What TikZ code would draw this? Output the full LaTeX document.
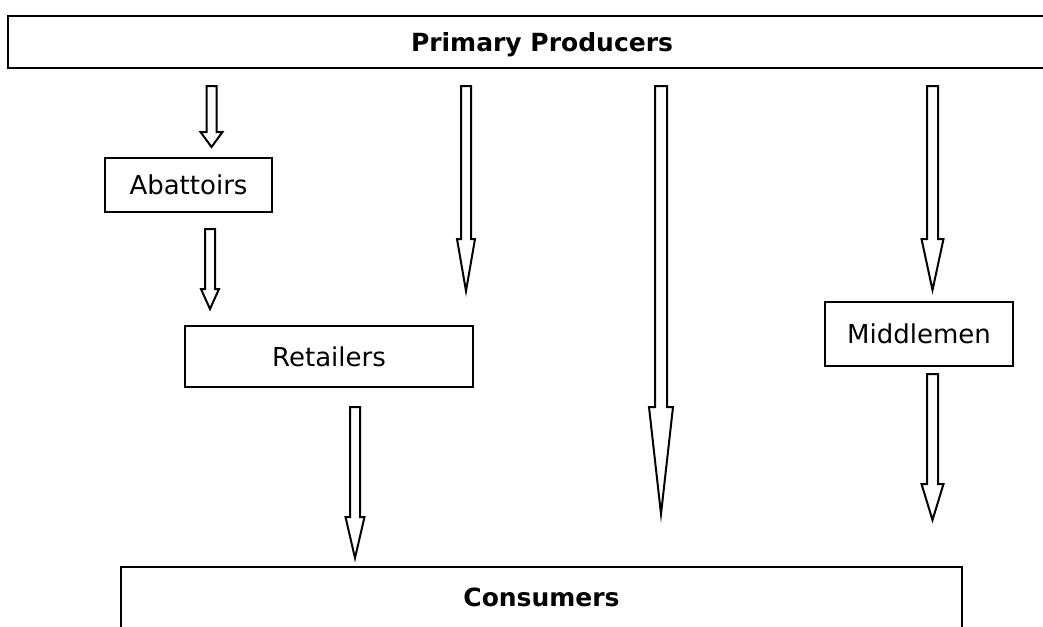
\documentclass[tikz,border=0pt]{standalone}
\usepackage{fontspec}
\setmainfont{DejaVu Sans}
\begin{document}
\begin{tikzpicture}[x=1pt,y=-1pt,
  box/.style={draw=black,line width=2pt,rectangle,inner sep=0pt,font=\fontsize{26}{31}\selectfont},
  bigbox/.style={box,font=\fontsize{25}{30}\selectfont\bfseries},
  hollow/.style={draw=black,line width=2pt,line join=miter,fill=white}]
\useasboundingbox (0,0) rectangle (1043,626);
\clip (0,0) rectangle (1043,626);
\newcommand{\hollowarr}[6]{%
  \draw[hollow] (#1-#4,#2) -- (#1+#4,#2) -- (#1+#4,#6) -- (#1+#5,#6) -- (#1,#3)
     -- (#1-#5,#6) -- (#1-#4,#6) -- cycle;}
% boxes
\node[bigbox,anchor=north,minimum width=1068pt,inner xsep=0pt,inner ysep=0pt,
      text height=36pt,text depth=16pt] (pp) at (542,15) {Primary Producers};
\node[box,minimum width=167pt,minimum height=54pt] (ab) at (188.5,185) {Abattoirs};
\node[box,minimum width=288pt,minimum height=61pt] (re) at (329,356.5) {Retailers};
\node[box,minimum width=188pt,minimum height=64pt] (mi) at (919,334) {Middlemen};
\node[bigbox,anchor=north,minimum width=841pt,inner xsep=0pt,inner ysep=20pt,
      text height=19pt,text depth=50pt] (co) at (541.5,566) {Consumers};
% arrows
\hollowarr{211.5}{86}{147}{5}{11}{132}
\hollowarr{210}{229}{309}{5}{9}{289}
\hollowarr{355}{407}{558}{5}{9.5}{517}
\hollowarr{466}{86}{291}{5}{9}{239}
\hollowarr{661}{86}{514}{6}{12}{407}
\hollowarr{932.5}{86}{290}{5.5}{11}{239}
\hollowarr{932.5}{374}{520}{5.5}{11}{484}
\end{tikzpicture}
\end{document}
